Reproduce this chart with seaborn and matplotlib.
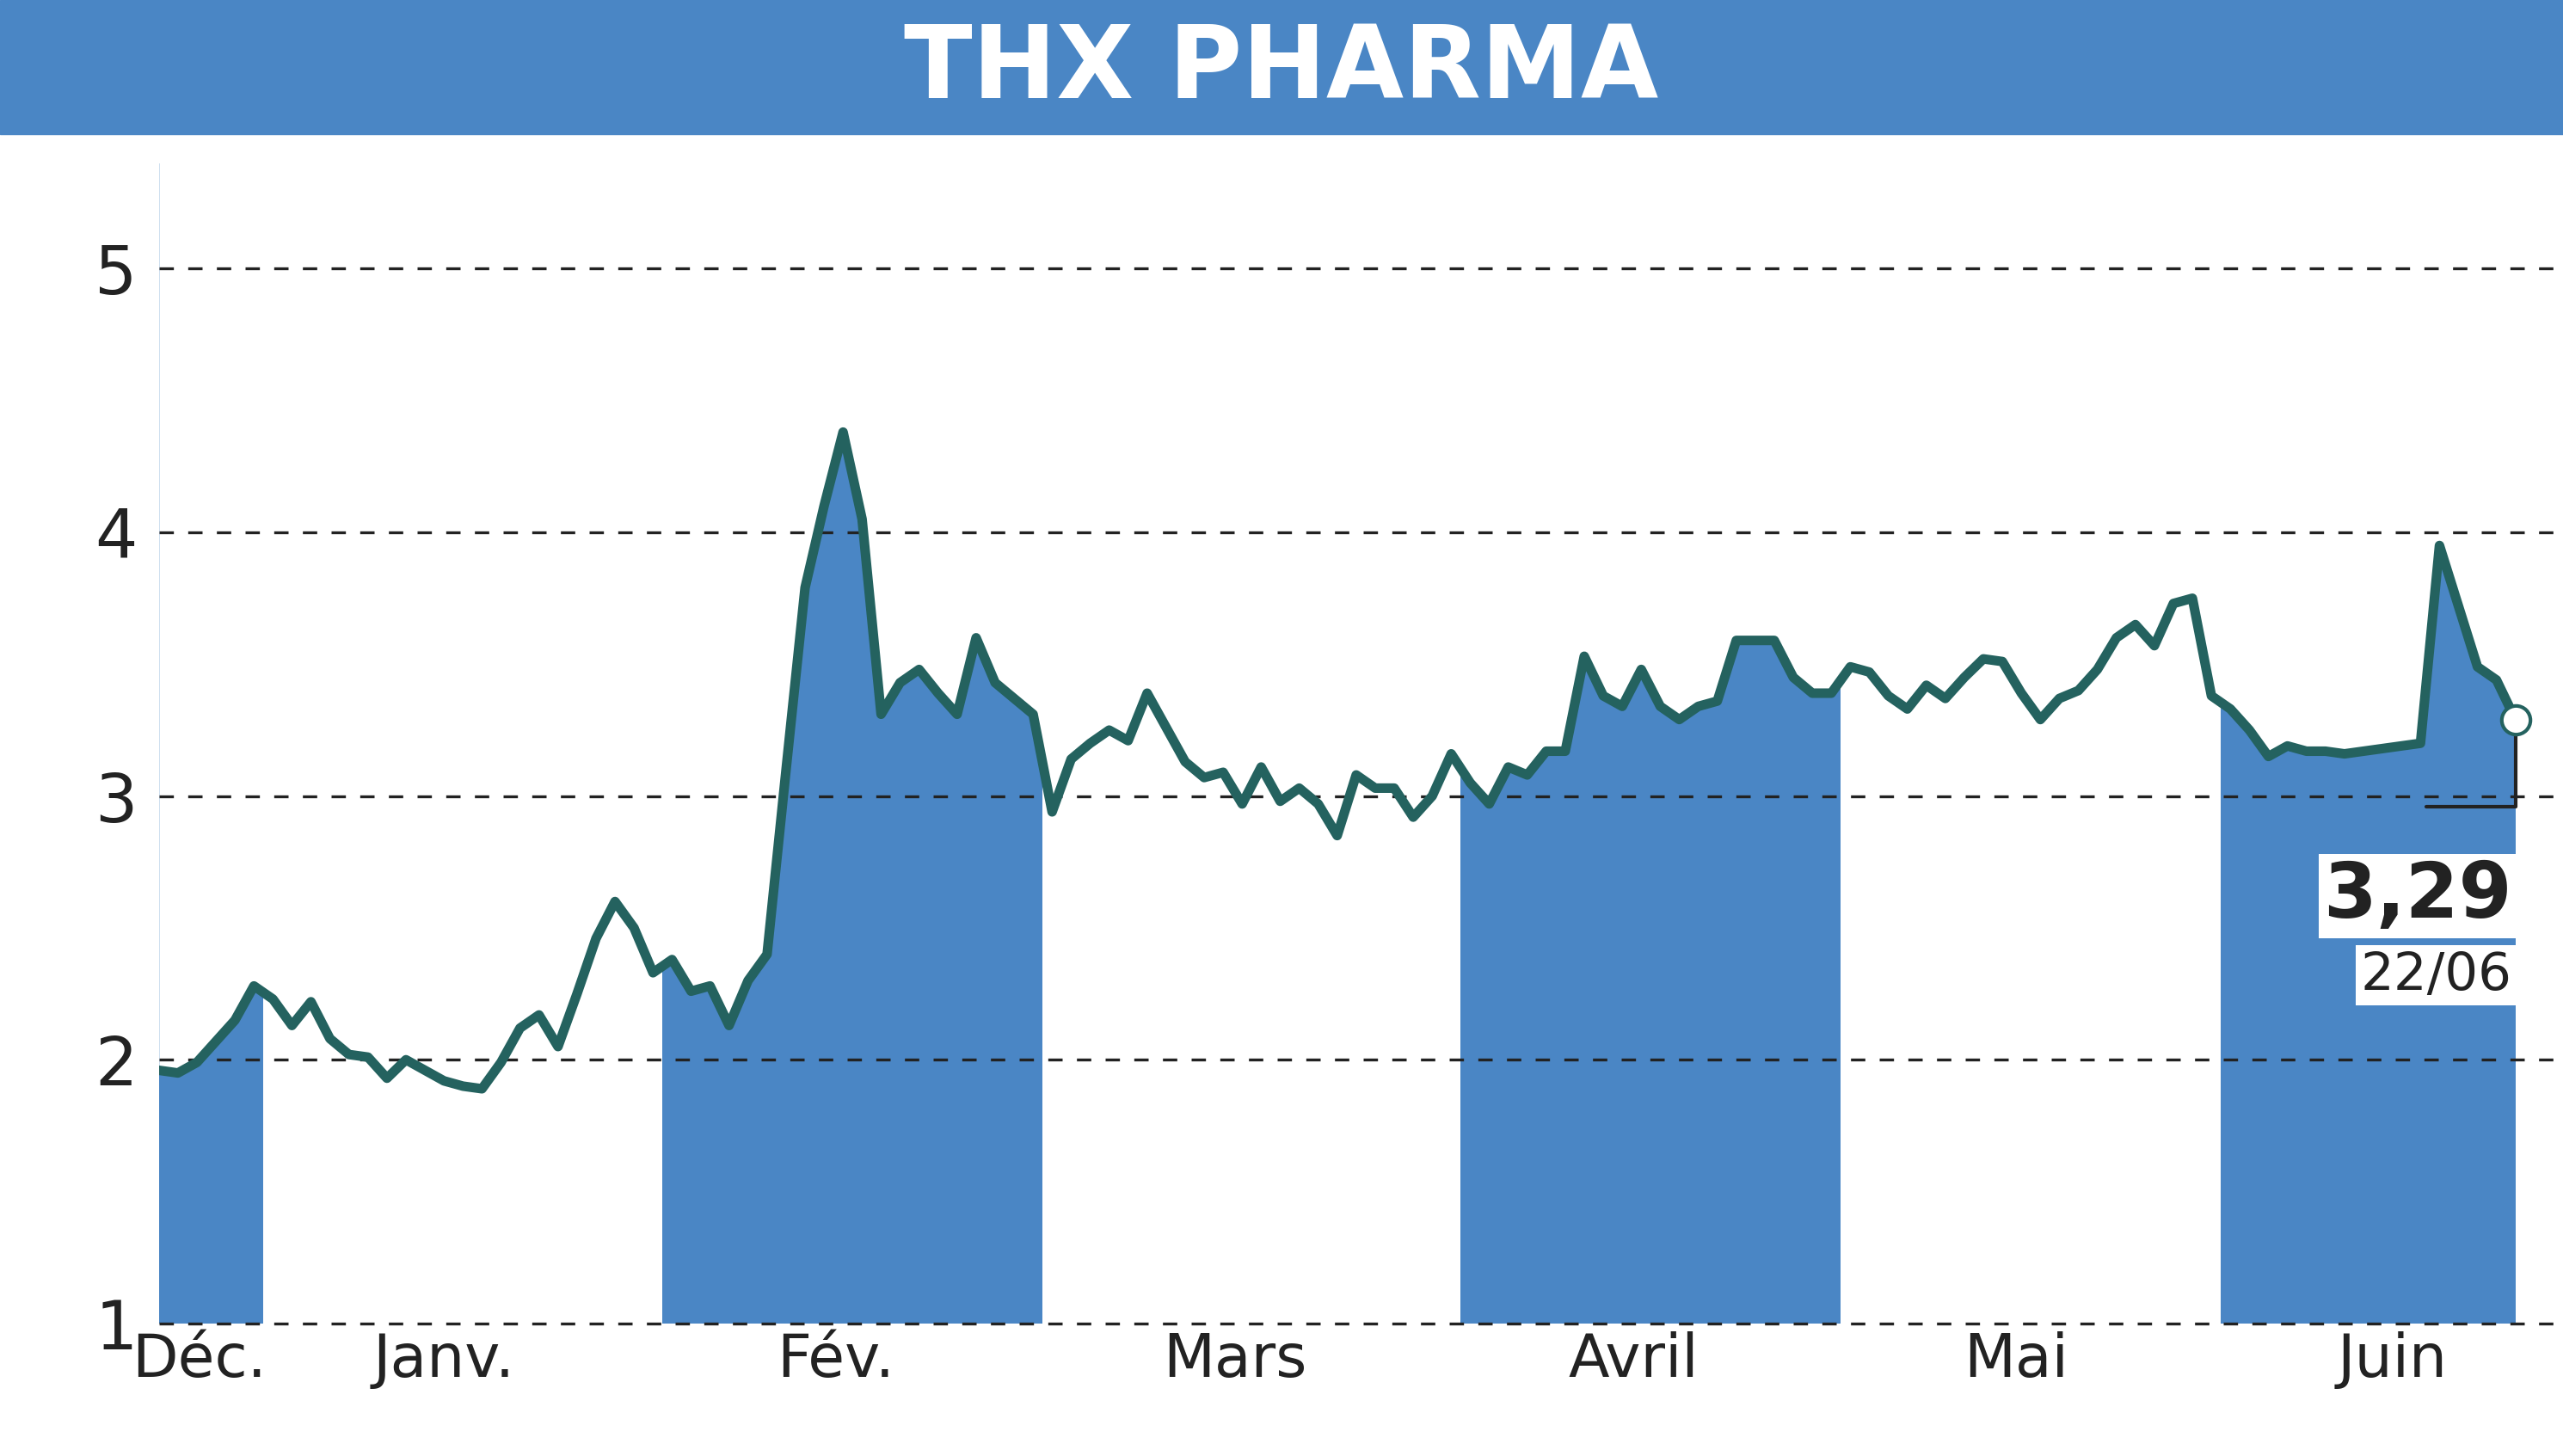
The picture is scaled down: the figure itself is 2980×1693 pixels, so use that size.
import matplotlib
matplotlib.use("Agg")
import matplotlib.pyplot as plt
import numpy as np
import pandas as pd
import seaborn as sns

TITLE = "THX PHARMA"
PRICES = [
    1.96, 1.95, 1.99, 2.07, 2.15, 2.28, 2.23, 2.13, 2.22, 2.08, 2.02, 2.01, 1.93,
    2.00, 1.96, 1.92, 1.90, 1.89, 1.99, 2.12, 2.17, 2.05, 2.25, 2.46, 2.60, 2.50,
    2.33, 2.38, 2.26, 2.28, 2.13, 2.30, 2.40, 3.10, 3.79, 4.10, 4.38, 4.05, 3.31,
    3.43, 3.48, 3.39, 3.31, 3.60, 3.43, 3.37, 3.31, 2.94, 3.14, 3.20, 3.25, 3.21,
    3.39, 3.26, 3.13, 3.07, 3.09, 2.97, 3.11, 2.98, 3.03, 2.97, 2.85, 3.08, 3.03,
    3.03, 2.92, 3.00, 3.16, 3.05, 2.97, 3.11, 3.08, 3.17, 3.17, 3.53, 3.38, 3.34,
    3.48, 3.34, 3.29, 3.34, 3.36, 3.59, 3.59, 3.59, 3.45, 3.39, 3.39, 3.49, 3.47,
    3.38, 3.33, 3.42, 3.37, 3.45, 3.52, 3.51, 3.39, 3.29, 3.37, 3.40, 3.48, 3.60,
    3.65, 3.57, 3.73, 3.75, 3.38, 3.33, 3.25, 3.15, 3.19, 3.17, 3.17, 3.16, 3.17,
    3.18, 3.19, 3.20, 3.95, 3.72, 3.49, 3.44, 3.29,
]
# trading-day index where each month begins
MONTH_NAMES = ["Déc.", "Janv.", "Fév.", "Mars", "Avril", "Mai", "Juin"]
MONTH_STARTS = [0, 6, 27, 47, 69, 89, 109]
MONTH_LABEL_POS = [2.1, 15, 35.6, 56.6, 77.6, 97.7, 117.5]
SHADED = [0, 2, 4, 6]
Y_TICKS = [1, 2, 3, 4, 5]
LAST_LABEL = "3,29"
LAST_DATE = "22/06"

BLUE = "#4a86c5"
LINE = "#24625f"

df = pd.DataFrame({"x": np.arange(len(PRICES)), "price": PRICES})
n = len(df)

sns.set_theme(style="white")
plt.rcParams["font.family"] = ["DejaVu Sans"]
fig = plt.figure(figsize=(29.8, 16.93), dpi=100)
ax = fig.add_axes([0.062, 0.091, 0.938, 0.797])
ymin, ymax = 1, 5.4
ax.set_ylim(ymin, ymax)
ax.set_xlim(0, n + 1.5)

for i in SHADED:
    x0 = MONTH_STARTS[i] - (0.5 if MONTH_STARTS[i] > 0 else 0)
    x1 = MONTH_STARTS[i + 1] - 0.5 if i + 1 < len(MONTH_STARTS) else n - 1
    ax.fill_between([x0, x1], ymin, ymax + 1, color=BLUE, lw=0, zorder=1)

ax.fill_between(df["x"], df["price"], ymax + 1, color="white", lw=0, zorder=2)

for t in Y_TICKS:
    ax.axhline(t, color="#222222", lw=2.4, ls=(0, (5, 5)), zorder=3, clip_on=False)

sns.lineplot(data=df, x="x", y="price", color=LINE, lw=8, ax=ax, zorder=4)
lx, ly = df["x"].iloc[-1], df["price"].iloc[-1]
ax.plot([lx], [ly], "o", ms=24, mfc="white", mec=LINE, mew=3, zorder=6, clip_on=False)
ax.plot([lx, lx, lx - 4.7], [ly - 0.05, 2.96, 2.96], color="#222222", lw=3, zorder=5)

ax.text(lx - 0.2, 2.62, LAST_LABEL, ha="right", va="center", fontsize=64,
        fontweight="bold", color="#222222", zorder=7,
        bbox=dict(facecolor="white", edgecolor="none", pad=4))
ax.text(lx - 0.2, 2.32, LAST_DATE, ha="right", va="center", fontsize=44,
        color="#222222", zorder=7,
        bbox=dict(facecolor="white", edgecolor="none", pad=4))

ax.set_xticks([])
for name, xc in zip(MONTH_NAMES, MONTH_LABEL_POS):
    ax.text(xc, 0.97, name, ha="center", va="top", fontsize=50, color="#222222")

ax.set_yticks(Y_TICKS)
ax.set_yticklabels([str(t) for t in Y_TICKS], fontsize=56, color="#222222")
ax.tick_params(axis="y", length=0, pad=18)
ax.set_xlabel("")
ax.set_ylabel("")
for s in ax.spines.values():
    s.set_visible(False)

fig.patches.append(plt.Rectangle((0, 0.908), 1, 0.092, transform=fig.transFigure,
                                 color=BLUE, zorder=0))
fig.text(0.5, 0.952, TITLE, ha="center", va="center", fontsize=84, fontweight="bold",
         color="white")

fig.savefig("out.png", dpi=100)
